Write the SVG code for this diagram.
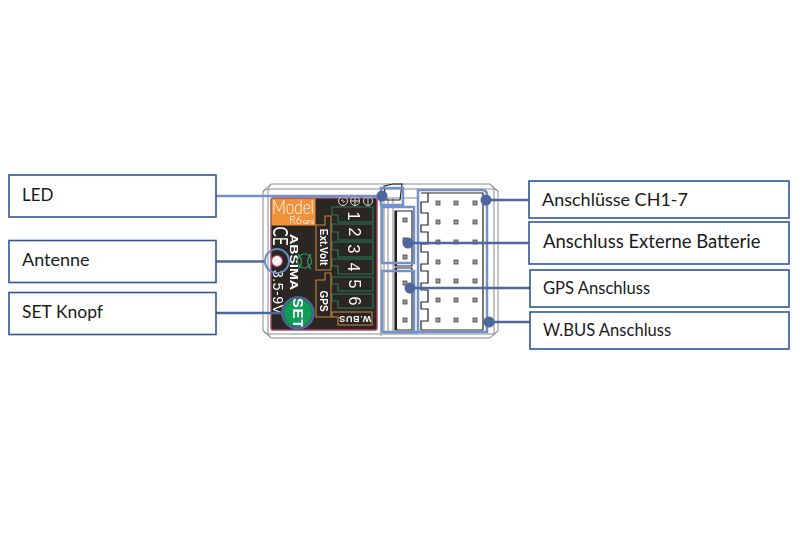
<svg xmlns="http://www.w3.org/2000/svg" width="800" height="533" viewBox="0 0 800 533">
<style>
.box{fill:#fff;stroke:#2f5597;stroke-width:1.6}
.lb{font-family:"Lato","Open Sans",sans-serif;fill:#1a1a1a;font-weight:400}
.dw{font-family:"Liberation Sans",Arial,sans-serif;fill:#fff}
.num{font-size:16px;text-anchor:middle}
.bold{font-weight:700;text-anchor:middle}
.slot{fill:none;stroke:#2e7d55;stroke-width:1.1}
.fr{fill:none;stroke:#c9853f;stroke-width:1.1}
.pin{fill:#999;stroke:#444;stroke-width:.8}
.hi{fill:none;stroke:#7391cb;stroke-width:2.500}
.dark{stroke:#4d679c;stroke-width:2.400;fill:none}
.dot{fill:#4d679c}
.gl{fill:none;stroke:#8a8a8a;stroke-width:1}
.bl{fill:none;stroke:#222;stroke-width:1.2}
</style>
<defs><filter id="soft" x="-5%" y="-5%" width="110%" height="110%"><feGaussianBlur stdDeviation="0.35"/></filter></defs>
<rect width="800" height="533" fill="#fff"/>
<g id="device" filter="url(#soft)">
<path class="gl" fill="#fff" d="M271 184H490L498 191V331L490 338H271L263 331V191Z"/>
<path class="gl" d="M268 189H494V334H268Z"/>
<path class="gl" d="M271 184L268 189L263 191M490 184L494 189L498 191M263 331L268 334L271 338M498 331L494 334L490 338"/>
<rect x="271" y="198" width="106" height="132" rx="2" fill="#2b2522" stroke="#a8416f" stroke-width="1.4"/>
<rect x="271.500" y="198.500" width="44" height="27" fill="#f0913a"/>
<text class="dw" style="font-family:Lato,sans-serif;font-weight:300" x="272" y="213.500" font-size="20" textLength="42" lengthAdjust="spacingAndGlyphs">Model</text>
<text class="dw" style="font-family:Lato,sans-serif;font-weight:300" x="289" y="224" font-size="12" textLength="13" lengthAdjust="spacingAndGlyphs">R6</text>
<text class="dw" x="303" y="224" font-size="6" textLength="11" lengthAdjust="spacingAndGlyphs">GPS</text>
<text class="dw" style="font-family:Lato,sans-serif;font-weight:400" transform="translate(273 236) rotate(90)" font-size="21" text-anchor="middle" textLength="19" lengthAdjust="spacingAndGlyphs">CE</text>
<text class="dw" transform="translate(290 262) rotate(90)" font-size="10.500" text-anchor="middle" font-weight="700" textLength="56" lengthAdjust="spacingAndGlyphs">ABSIMA</text>
<text class="dw" transform="translate(273 292) rotate(90)" font-size="14" text-anchor="middle" textLength="44" lengthAdjust="spacing">3.5-9V</text>
<circle cx="277" cy="261" r="5.500" fill="#f4f4f4" stroke="#b0407a" stroke-width="1.200"/>
<path d="M298 254Q305 262 298 269M311 254Q304 262 311 269M304.500 254A7 7 0 0 0 304.500 268A7 7 0 0 0 304.500 254" fill="none" stroke="#2e9a62" stroke-width="1.200"/>
<circle cx="343" cy="201" r="4.500" fill="none" stroke="#eee" stroke-width=".9"/>
<path d="M341 201Q343 198 343 201T345 201" fill="none" stroke="#eee" stroke-width=".8"/>
<circle cx="355" cy="201" r="4.500" fill="none" stroke="#eee" stroke-width=".9"/>
<path d="M351 201H359M355 197V205" stroke="#eee" stroke-width=".9"/>
<circle cx="368" cy="201" r="4.500" fill="none" stroke="#eee" stroke-width=".9"/>
<path d="M368 197V205" stroke="#eee" stroke-width=".9"/>
<path class="slot" d="M332 207H373V222H338V215H332Z"/>
<path class="slot" d="M332 224H373V240H338V232H332Z"/>
<path class="slot" d="M332 242H373V257H338V250H332Z"/>
<path class="slot" d="M332 259H373V274H338V266H332Z"/>
<path class="slot" d="M332 277H373V291H338V284H332Z"/>
<path class="slot" d="M332 294H373V308H338V301H332Z"/>
<path class="fr" d="M332 312H372V325H338V317H332Z"/>
<path class="fr" d="M316 225H325V216H331V270H316Z"/>
<path class="fr" d="M316 280H325V273H331V317H316Z"/>
<g class="dw num">
<text transform="translate(348 216) rotate(90)">1</text>
<text transform="translate(349 232) rotate(90)">2</text>
<text transform="translate(348 249) rotate(90)">3</text>
<text transform="translate(348 267) rotate(90)">4</text>
<text transform="translate(349 284) rotate(90)">5</text>
<text transform="translate(349 301) rotate(90)">6</text>
</g>
<text class="dw bold" transform="translate(320 247) rotate(90)" font-size="10">Ext.Volt</text>
<text class="dw bold" transform="translate(320 301) rotate(90)" font-size="10">GPS</text>
<text class="dw bold" transform="translate(355 315.500) rotate(180)" font-size="9" letter-spacing=".6">W.BUS</text>
<circle cx="298" cy="313" r="14" fill="#0f9d58"/>
<text class="dw bold" transform="translate(292.500 313.500) rotate(90)" font-size="15" letter-spacing=".8">SET</text>
<path class="gl" d="M381 189V336M384 198V333M388 198V333M393 198V333M384 198H418M384 333H418"/>
<path class="bl" d="M395 211H412V266H395ZM395 268H412V330H395Z"/>
<path d="M396 211V266M396 268V330" stroke="#222" stroke-width="2"/>
<path class="bl" stroke-width="1" d="M384 186L393 184H402L400 200H386Z"/>
<path class="bl" d="M421 193H483V330H421V321H428V309H421V302H428V290H421V283H428V271H421V264H428V252H421V244H428V232H421V225H428V213H421V202H428V193"/>
<g class="pin">
<rect x="403" y="218" width="4" height="4"/><rect x="403" y="238" width="4" height="4"/><rect x="403" y="255" width="4" height="4"/>
<rect x="403" y="281" width="4" height="4"/><rect x="403" y="300" width="4" height="4"/><rect x="403" y="318" width="4" height="4"/>
<rect x="436" y="201" width="4" height="4"/><rect x="454" y="201" width="4" height="4"/><rect x="473" y="201" width="4" height="4"/>
<rect x="436" y="220" width="4" height="4"/><rect x="454" y="220" width="4" height="4"/><rect x="473" y="220" width="4" height="4"/>
<rect x="436" y="240" width="4" height="4"/><rect x="454" y="240" width="4" height="4"/><rect x="473" y="240" width="4" height="4"/>
<rect x="436" y="260" width="4" height="4"/><rect x="454" y="260" width="4" height="4"/><rect x="473" y="260" width="4" height="4"/>
<rect x="436" y="279" width="4" height="4"/><rect x="454" y="279" width="4" height="4"/><rect x="473" y="279" width="4" height="4"/>
<rect x="436" y="298" width="4" height="4"/><rect x="454" y="298" width="4" height="4"/><rect x="473" y="298" width="4" height="4"/>
<rect x="436" y="318" width="4" height="4"/><rect x="454" y="318" width="4" height="4"/><rect x="473" y="318" width="4" height="4"/>
</g>
<path class="hi" d="M418 332V190H482Q487 190 487 195V332H381"/>
<rect class="hi" x="382" y="207" width="32" height="56"/>
<path class="hi" d="M414 332V271H382V332"/>
<rect class="hi" x="381" y="188" width="22" height="17"/>
</g>
<g id="connectors">
<path d="M216 196H382" stroke="#7391cb" stroke-width="2.400" fill="none"/>
<circle class="dot" cx="382" cy="196" r="5.500"/>
<path class="dark" d="M216 261.500H265"/>
<circle cx="277" cy="261" r="12" fill="none" stroke="#6d8bc6" stroke-width="2"/>
<path class="dark" d="M216 313H282"/>
<circle cx="298" cy="313" r="15.500" fill="none" stroke="#4d679c" stroke-width="2.500"/>
<path class="dark" d="M486 200H529"/>
<circle class="dot" cx="486" cy="200" r="5.500"/>
<path class="dark" d="M408 243H529"/>
<circle class="dot" cx="408" cy="243" r="5.500"/>
<path class="dark" d="M410 288H530"/>
<circle class="dot" cx="410" cy="288" r="5.500"/>
<path class="dark" d="M489 322H530"/>
<circle class="dot" cx="489" cy="322" r="5.500"/>
</g>
<g id="led"><rect class="box" x="9" y="175" width="207" height="42"/><text class="lb" x="22" y="201" font-size="17">LED</text></g>
<g id="antenne"><rect class="box" x="9" y="240.500" width="207" height="42"/><text class="lb" x="22" y="266" font-size="18">Antenne</text></g>
<g id="set-knopf"><rect class="box" x="9" y="292.500" width="207" height="42"/><text class="lb" x="22" y="318" font-size="17.500">SET Knopf</text></g>
<g id="anschluesse"><rect class="box" x="529" y="181" width="260" height="37"/><text class="lb" x="542" y="206" font-size="18">Anschlüsse CH1-7</text></g>
<g id="batterie"><rect class="box" x="529" y="222" width="260" height="42"/><text class="lb" x="543" y="248" font-size="18.500">Anschluss Externe Batterie</text></g>
<g id="gps"><rect class="box" x="530" y="270" width="259" height="37"/><text class="lb" x="543" y="294" font-size="16.600">GPS Anschluss</text></g>
<g id="wbus"><rect class="box" x="530" y="312" width="259" height="37"/><text class="lb" x="543" y="336" font-size="16.600">W.BUS Anschluss</text></g>
</svg>
